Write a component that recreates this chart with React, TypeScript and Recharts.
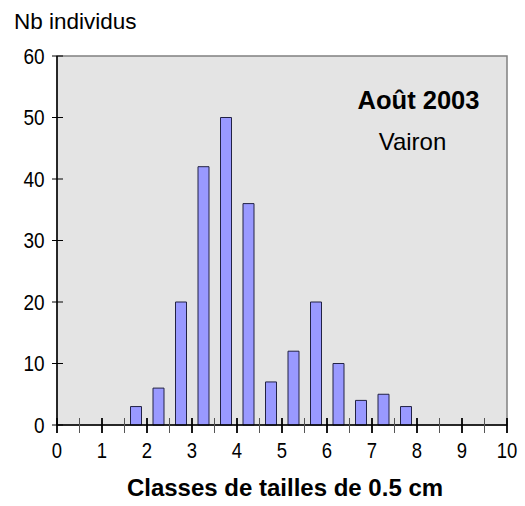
import { BarChart, Bar, XAxis, YAxis, ReferenceArea } from 'recharts';

const classes = [1.75, 2.25, 2.75, 3.25, 3.75, 4.25, 4.75, 5.25, 5.75, 6.25, 6.75, 7.25, 7.75];
const counts = [3, 6, 20, 42, 50, 36, 7, 12, 20, 10, 4, 5, 3];
const xTicks = [0, 0.5, 1, 1.5, 2, 2.5, 3, 3.5, 4, 4.5, 5, 5.5, 6, 6.5, 7, 7.5, 8, 8.5, 9, 9.5, 10];
const yTicks = [0, 10, 20, 30, 40, 50, 60];

const yTitle = 'Nb individus';
const xTitle = 'Classes de tailles de 0.5 cm';
const title = 'Août 2003';
const subtitle = 'Vairon';

const data = classes.map((c, i) => ({ classe: c, nb: counts[i] }));

const font = '"Liberation Sans", Arial, sans-serif';

// integer ticks get a label and a heavier line, half units only a thin line
const XTick = (props: any) => {
  const { x, y, payload } = props;
  const major = Number.isInteger(payload.value);
  return (
    <g>
      <line x1={x} x2={x} y1={y - 7} y2={y + 8} stroke={major ? '#000' : '#555'} strokeWidth={major ? 1.8 : 1} />
      {major && (
        <text transform={`translate(${x},${y + 33}) scale(1,1.15)`} textAnchor="middle" fontSize={18.5} fill="#000" fontFamily={font}>
          {payload.value}
        </text>
      )}
    </g>
  );
};

const YTick = (props: any) => {
  const { x, y, payload } = props;
  return (
    <g>
      <line x1={x - 5} x2={x + 6} y1={y} y2={y} stroke="#000" strokeWidth={1} />
      <text transform={`translate(${x - 12.5},${y}) scale(1,1.12)`} dy="0.36em" textAnchor="end" fontSize={19} fill="#000" fontFamily={font}>
        {payload.value}
      </text>
    </g>
  );
};

export default function App() {
  return (
    <div style={{ position: 'absolute', left: 0, top: 0, width: 525, height: 506, background: '#fff' }}>
      <BarChart width={525} height={506} data={data} margin={{ top: 56, right: 18, bottom: 51, left: 0 }}>
        <ReferenceArea x1={0} x2={10} y1={0} y2={60} fill="#e4e4e4" fillOpacity={1} stroke="#808080" strokeWidth={1.5} />
        <XAxis
          dataKey="classe"
          type="number"
          domain={[0, 10]}
          ticks={xTicks}
          interval={0}
          tickSize={0}
          tickMargin={0}
          tickLine={false}
          tick={<XTick />}
          axisLine={{ stroke: '#000', strokeWidth: 1.5 }}
          height={30}
        />
        <YAxis
          type="number"
          domain={[0, 60]}
          ticks={yTicks}
          interval={0}
          width={57}
          tickSize={0}
          tickMargin={0}
          tickLine={false}
          tick={<YTick />}
          axisLine={{ stroke: '#000', strokeWidth: 1.5 }}
        />
        <Bar dataKey="nb" barSize={11} fill="#9999ff" stroke="#222244" strokeWidth={1} isAnimationActive={false} />
      </BarChart>
      <svg width={525} height={506} style={{ position: 'absolute', left: 0, top: 0, pointerEvents: 'none' }}>
        <text x={14} y={29} fontSize={22.5} fontFamily={font} fill="#000">{yTitle}</text>
        <text x={418.5} y={109} textAnchor="middle" fontSize={25.5} fontWeight="bold" fontFamily={font} fill="#000">{title}</text>
        <text x={412.5} y={150} textAnchor="middle" fontSize={24} fontFamily={font} fill="#000">{subtitle}</text>
        <text x={285} y={496} textAnchor="middle" fontSize={24} fontWeight="bold" fontFamily={font} fill="#000">{xTitle}</text>
      </svg>
    </div>
  );
}
